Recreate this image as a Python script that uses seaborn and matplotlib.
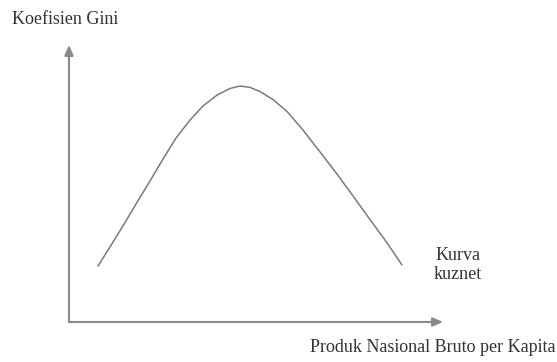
import numpy as np
import pandas as pd
import seaborn as sns
import matplotlib.pyplot as plt

sns.set_theme(style="white")
plt.rcParams['font.family'] = ['Liberation Serif', 'DejaVu Serif']

# Kurva Kuznets: points (income vs. Gini, 0-100 scale)
income = [7.75, 10.96, 14.44, 17.91, 21.66, 25.13, 28.61, 32.35, 35.83, 39.57, 43.05, 45.72,
          48.40, 51.07, 54.55, 58.29, 62.57, 67.11, 71.66, 75.94, 80.21, 84.49, 89.04]
gini = [20.2, 27.1, 34.7, 42.6, 50.9, 58.8, 66.4, 72.9, 78.0, 81.9, 84.3, 85.2,
        84.7, 83.2, 80.3, 76.0, 69.3, 61.4, 53.4, 45.5, 37.5, 29.6, 20.6]

y_label = "Koefisien Gini"
x_label = "Produk Nasional Bruto per Kapita"
curve_label = "Kurva\nkuznet"

df = pd.DataFrame({"income": income, "gini": gini})

W, H = 557, 362
fig = plt.figure(figsize=(W / 100, H / 100), dpi=100)
ax = fig.add_axes([69 / W, 1 - 322 / H, 374 / W, 277 / H])

sns.lineplot(data=df, x="income", y="gini", ax=ax, sort=False,
             color="#7a7a7a", linewidth=1.1)

ax.set_xlim(0, 100)
ax.set_ylim(0, 100)
ax.set_xticks([])
ax.set_yticks([])
ax.set_xlabel("")
ax.set_ylabel("")
for s in ax.spines.values():
    s.set_visible(False)

# axes with arrow heads
arrow = dict(arrowstyle="-|>,head_length=0.5,head_width=0.22", color="#8a8a8a",
             lw=1.5, shrinkA=0, shrinkB=0)
ax.annotate("", xy=(1, 0), xytext=(0, 0), xycoords="axes fraction", arrowprops=arrow)
ax.annotate("", xy=(0, 1), xytext=(0, 0), xycoords="axes fraction", arrowprops=arrow)
ax.plot([0, 0.012], [0, 0], transform=ax.transAxes, color="#8a8a8a", lw=1.5,
        clip_on=False)

fig.text(12 / W, 1 - 19 / H, y_label, ha="left", va="center", fontsize=13, color="#333333")
fig.text(555 / W, 1 - 348 / H, x_label, ha="right", va="center", fontsize=13, color="#333333")
fig.text(458 / W, 1 - 265 / H, curve_label, ha="center", va="center", fontsize=13,
         color="#333333", linespacing=1.15)

fig.savefig("out.png", dpi=100)
